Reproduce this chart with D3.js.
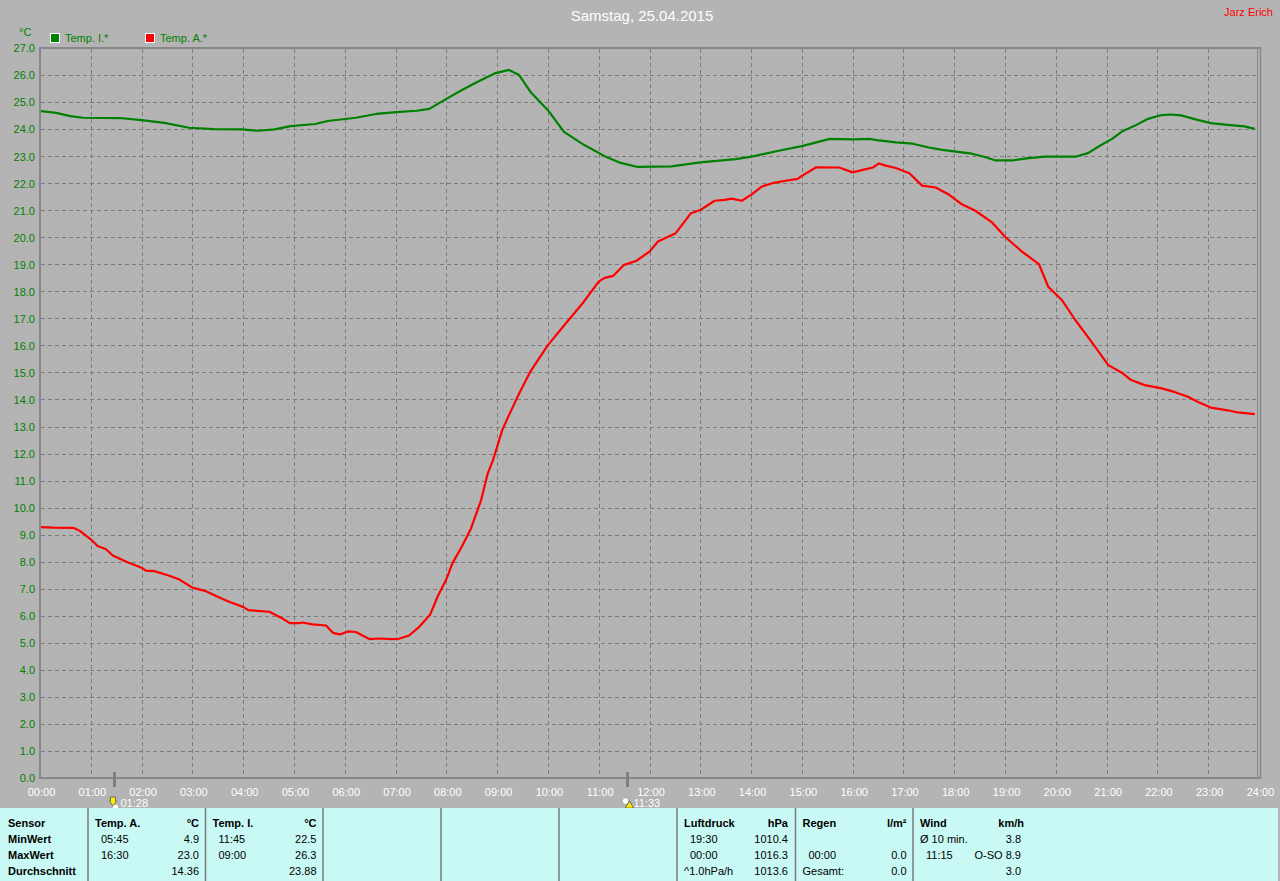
<!DOCTYPE html>
<html><head><meta charset="utf-8">
<script src="https://cdn.jsdelivr.net/npm/d3@7"></script>
<style>
html,body{margin:0;padding:0;background:#b4b4b4;}
svg{display:block;font-family:"Liberation Sans",Arial,sans-serif;}
</style></head>
<body>
<svg id="chart" width="1280" height="881"></svg>
<script>
// ---- data ----
const title = "Samstag, 25.04.2015";
const author = "Jarz Erich";
const seriesNames = ["Temp. I.*", "Temp. A.*"];
const seriesColors = ["#008000", "#ff0000"];
const xTickLabels = ["00:00","01:00","02:00","03:00","04:00","05:00","06:00","07:00","08:00","09:00","10:00","11:00","12:00","13:00","14:00","15:00","16:00","17:00","18:00","19:00","20:00","21:00","22:00","23:00","24:00"];
const yTicks = [0,1,2,3,4,5,6,7,8,9,10,11,12,13,14,15,16,17,18,19,20,21,22,23,24,25,26,27];
const markerTimes = ["01:28","11:33"];

const tempITimes = ["00:00","00:19","00:36","00:51","01:34","02:00","02:27","02:56","03:25","03:58","04:18","04:37","04:56","05:25","05:40","06:13","06:37","07:01","07:25","07:40","07:59","08:18","08:37","08:57","09:14","09:26","09:40","10:00","10:19","10:43","11:07","11:26","11:46","12:26","13:00","13:42","14:02","14:34","15:00","15:33","16:00","16:20","16:31","16:51","17:11","17:30","17:46","18:02","18:21","18:37","18:49","19:08","19:28","19:47","20:23","20:38","20:54","21:06","21:18","21:33","21:49","22:05","22:16","22:28","22:44","23:03","23:23","23:43","23:55"];
const tempIValues = [24.67,24.60,24.48,24.42,24.41,24.33,24.23,24.05,24.00,23.99,23.94,23.99,24.11,24.19,24.30,24.42,24.56,24.63,24.68,24.75,25.10,25.44,25.75,26.06,26.19,26.00,25.35,24.70,23.90,23.41,23.00,22.75,22.60,22.62,22.77,22.89,22.99,23.21,23.37,23.64,23.62,23.64,23.58,23.51,23.46,23.32,23.23,23.17,23.09,22.96,22.84,22.84,22.93,22.98,22.98,23.11,23.42,23.63,23.91,24.12,24.38,24.52,24.54,24.51,24.37,24.22,24.16,24.10,24.01];

const tempATimes = ["00:00","00:16","00:40","00:47","01:00","01:08","01:18","01:26","01:42","02:00","02:05","02:15","02:32","02:44","03:00","03:16","03:28","03:44","04:00","04:06","04:31","04:47","04:55","05:06","05:10","05:22","05:38","05:46","05:54","06:04","06:13","06:21","06:29","06:40","06:56","07:04","07:16","07:27","07:41","07:50","08:00","08:07","08:19","08:29","08:41","08:49","08:55","09:00","09:06","09:14","09:26","09:39","10:00","10:21","10:41","11:00","11:07","11:17","11:30","11:44","12:00","12:10","12:31","12:49","13:00","13:17","13:29","13:37","13:49","14:00","14:13","14:25","14:41","14:55","15:00","15:17","15:44","16:00","16:12","16:24","16:31","16:39","16:51","17:07","17:22","17:38","17:54","18:09","18:25","18:45","19:00","19:20","19:40","19:51","20:07","20:23","20:42","21:02","21:18","21:29","21:45","22:05","22:20","22:36","22:48","23:03","23:23","23:35","23:55"];
const tempAValues = [9.28,9.26,9.25,9.14,8.83,8.58,8.46,8.23,8.00,7.78,7.67,7.65,7.49,7.35,7.04,6.91,6.73,6.51,6.33,6.21,6.15,5.89,5.73,5.73,5.75,5.68,5.64,5.37,5.31,5.42,5.40,5.27,5.14,5.16,5.14,5.15,5.27,5.56,6.05,6.73,7.35,7.93,8.60,9.22,10.27,11.27,11.75,12.25,12.86,13.42,14.22,15.02,16.01,16.81,17.56,18.36,18.50,18.57,18.98,19.12,19.47,19.84,20.15,20.89,21.01,21.35,21.38,21.43,21.35,21.57,21.88,22.00,22.09,22.16,22.27,22.59,22.58,22.40,22.49,22.58,22.73,22.65,22.56,22.37,21.91,21.84,21.57,21.22,20.98,20.54,20.02,19.47,19.01,18.17,17.68,16.94,16.14,15.27,14.99,14.72,14.53,14.41,14.28,14.10,13.91,13.70,13.60,13.52,13.46];

// table
const tableHeaders = [["Temp. A.","°C"],["Temp. I.","°C"],["","",],["",""],["",""],["Luftdruck","hPa"],["Regen","l/m²"],["Wind","km/h"]];
const rowLabels = ["Sensor","MinWert","MaxWert","Durchschnitt"];
const tempARows = [["05:45","4.9"],["16:30","23.0"],["","14.36"]];
const tempIRows = [["11:45","22.5"],["09:00","26.3"],["","23.88"]];
const pressureRows = [[" 19:30","1010.4"],[" 00:00","1016.3"],["^1.0hPa/h","1013.6"]];
const rainRows = [["",""],[" 00:00","0.0"],["Gesamt:","0.0"]];
const windRows = [["Ø 10 min.","3.8"],[" 11:15","O-SO 8.9"],["","3.0"]];

// ---- drawing ----
const svg = d3.select("#chart");
const toH = s => { const [h,m] = s.split(":").map(Number); return h + m/60; };
const x = d3.scaleLinear().domain([0,24]).range([40,1259]);
const y = d3.scaleLinear().domain([0,27]).range([778,48]);

// title
svg.append("text").attr("x",642).attr("y",21).attr("text-anchor","middle")
  .attr("fill","#ffffff").attr("font-size",15).text(title);
svg.append("text").attr("x",1273).attr("y",16).attr("text-anchor","end")
  .attr("fill","#ff0000").attr("font-size",11).text(author);

// unit
svg.append("text").attr("x",19).attr("y",36).attr("fill","#008000").attr("font-size",11).text("°C");

// legend
const legX = [50,145];
seriesNames.forEach((n,i)=>{
  svg.append("rect").attr("x",legX[i]+0.5).attr("y",33.5).attr("width",9).attr("height",9)
    .attr("fill",seriesColors[i]).attr("stroke","#ffffff").attr("stroke-width",1);
  svg.append("text").attr("x",legX[i]+15).attr("y",42).attr("fill","#008000").attr("font-size",11).text(n);
});

// grid
const g = svg.append("g");
g.selectAll("line.hg").data(yTicks.filter(t=>t>0 && t<27)).join("line")
  .attr("x1",41).attr("x2",1257).attr("y1",d=>Math.round(y(d))+0.5).attr("y2",d=>Math.round(y(d))+0.5)
  .attr("stroke","#7c7c7c").attr("stroke-dasharray","4,3");
g.selectAll("line.vg").data(d3.range(1,24)).join("line")
  .attr("y1",49).attr("y2",777).attr("x1",d=>Math.round(x(d))+0.5).attr("x2",d=>Math.round(x(d))+0.5)
  .attr("stroke","#7c7c7c").attr("stroke-dasharray","4,3");

// frame
const fc = "#878787";
svg.append("line").attr("x1",39).attr("x2",1261).attr("y1",48).attr("y2",48).attr("stroke",fc).attr("stroke-width",2);
svg.append("line").attr("x1",39).attr("x2",1261).attr("y1",778).attr("y2",778).attr("stroke",fc).attr("stroke-width",2);
svg.append("line").attr("x1",40).attr("x2",40).attr("y1",47).attr("y2",779).attr("stroke",fc).attr("stroke-width",2);
svg.append("line").attr("x1",1257.5).attr("x2",1257.5).attr("y1",47).attr("y2",779).attr("stroke",fc).attr("stroke-width",1);
svg.append("line").attr("x1",1260.5).attr("x2",1260.5).attr("y1",47).attr("y2",779).attr("stroke",fc).attr("stroke-width",1.5);

// y axis labels
const yAxis = d3.axisLeft(y).tickValues(yTicks).tickSize(0).tickPadding(0).tickFormat(d3.format(".1f"));
const ya = svg.append("g").attr("transform","translate(35,0)").call(yAxis);
ya.select(".domain").remove();
ya.selectAll("text").attr("fill","#008000").attr("font-size",11).attr("font-family","Liberation Sans, Arial, sans-serif").attr("dy","0.35em");

// x axis labels
const xAxis = d3.axisBottom(x).tickValues(d3.range(0,25)).tickSize(0).tickPadding(0).tickFormat((d,i)=>xTickLabels[i]);
const xa = svg.append("g").attr("transform","translate(1,788)").call(xAxis);
xa.select(".domain").remove();
xa.selectAll("text").attr("fill","#ffffff").attr("font-size",11).attr("font-family","Liberation Sans, Arial, sans-serif").attr("dy","0.71em");

// markers (moonrise / moonset)
markerTimes.forEach((t,i)=>{
  const mx = Math.round(x(toH(t)))+0.5;
  svg.append("line").attr("x1",mx).attr("x2",mx).attr("y1",772).attr("y2",787).attr("stroke","#808080").attr("stroke-width",3);
  svg.append("text").attr("x",mx+6).attr("y",807).attr("fill","#ffffff").attr("font-size",11).text(t);
  if(i===0){
    svg.append("path").attr("d",`M${mx-4},797 L${mx+1},797 L${mx+1},801 L${mx+2},801 L${mx-1.5},806 L${mx-5},801 L${mx-4},801 Z`)
      .attr("fill","#ffee00").attr("stroke","#555555").attr("stroke-width",0.8);
    svg.append("circle").attr("cx",mx+1).attr("cy",807).attr("r",2.5).attr("fill","#ffffff");
  } else {
    svg.append("circle").attr("cx",mx-2).attr("cy",801).attr("r",3).attr("fill","#ffffff").attr("stroke","#7070a0").attr("stroke-width",0.7).attr("stroke-dasharray","1,1");
    svg.append("path").attr("d",`M${mx+2},801 L${mx+6},808 L${mx-2},808 Z`).attr("fill","#ffee00").attr("stroke","#333").attr("stroke-width",0.6);
  }
});

// lines
const line = d3.line().x(d=>x(d[0])).y(d=>y(d[1]));
const clipId = "plotclip";
svg.append("clipPath").attr("id",clipId).append("rect").attr("x",41).attr("y",49).attr("width",1216).attr("height",728);
const seriesData = [
  tempITimes.map((t,i)=>[toH(t), tempIValues[i]]),
  tempATimes.map((t,i)=>[toH(t), tempAValues[i]])
];
seriesData.forEach((d,i)=>{
  svg.append("path").attr("d",line(d)).attr("fill","none").attr("stroke",seriesColors[i])
    .attr("stroke-width",2.2).attr("stroke-linejoin","round").attr("clip-path",`url(#${clipId})`);
});

// ---- bottom table ----
const tb = svg.append("g");
tb.append("rect").attr("x",0).attr("y",808).attr("width",1278).attr("height",73).attr("fill","#c9f9f5");
const colX = [88,205.5,323,441,559,677,795.5,913];
colX.forEach(cx=>{
  tb.append("line").attr("x1",cx).attr("x2",cx).attr("y1",808).attr("y2",881).attr("stroke","#7a7a7a").attr("stroke-width",1.5);
});
const rowY = [827,843,859,875];
rowLabels.forEach((r,i)=>{
  tb.append("text").attr("x",8).attr("y",rowY[i]).attr("font-size",11).attr("font-weight","bold").attr("fill","#000").text(r);
});
const colW = 118;
tableHeaders.forEach((h,i)=>{
  if(!h[0]) return;
  const cx = colX[i];
  tb.append("text").attr("x",cx+7).attr("y",rowY[0]).attr("font-size",11).attr("font-weight","bold").attr("fill","#000").text(h[0]);
  tb.append("text").attr("x",cx+colW-7).attr("y",rowY[0]).attr("text-anchor","end").attr("font-size",11).attr("font-weight","bold").attr("fill","#000").text(h[1]);
});
const colRows = {0:tempARows,1:tempIRows,5:pressureRows,6:rainRows,7:windRows};
Object.keys(colRows).forEach(k=>{
  const cx = colX[+k];
  const rightEdge = (+k===7) ? cx+108 : cx+colW-7;
  colRows[k].forEach((r,j)=>{
    const lbl = r[0];
    const indent = (lbl.startsWith(" ") || /^\d/.test(lbl)) ? 13 : 7;
    tb.append("text").attr("x",cx+indent).attr("y",rowY[j+1]).attr("font-size",11).attr("fill","#000").text(lbl.trim());
    tb.append("text").attr("x",rightEdge).attr("y",rowY[j+1]).attr("text-anchor","end").attr("font-size",11).attr("fill","#000").text(r[1]);
  });
});
</script>
</body></html>
